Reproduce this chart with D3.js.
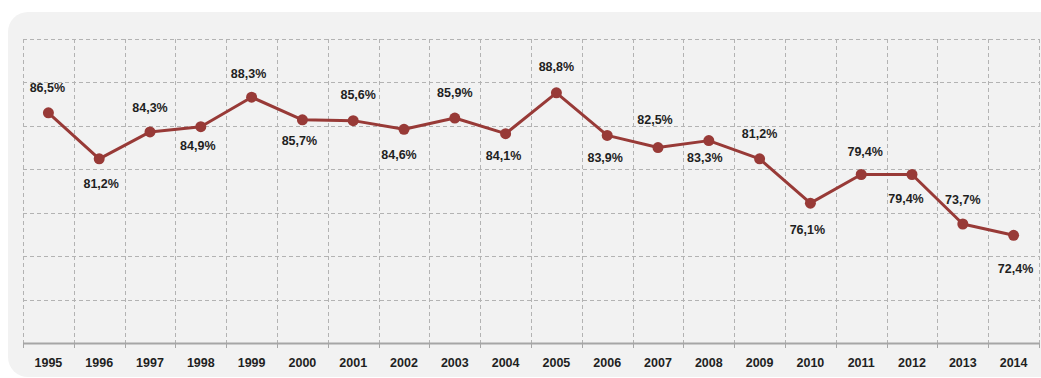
<!DOCTYPE html>
<html>
<head>
<meta charset="utf-8">
<script src="https://cdn.jsdelivr.net/npm/d3@7"></script>
<style>
  html, body { margin: 0; padding: 0; background: #ffffff; }
  svg { display: block; }
  text { font-family: "Liberation Sans", Arial, sans-serif; font-weight: bold; }
</style>
</head>
<body>
<svg id="chart" width="1041" height="378"></svg>
<script>
// Yearly share (%)
const years = ["1995","1996","1997","1998","1999","2000","2001","2002","2003","2004",
               "2005","2006","2007","2008","2009","2010","2011","2012","2013","2014"];
const shares = [86.5, 81.2, 84.3, 84.9, 88.3, 85.7, 85.6, 84.6, 85.9, 84.1,
                88.8, 83.9, 82.5, 83.3, 81.2, 76.1, 79.4, 79.4, 73.7, 72.4];
const yTicks = [60, 65, 70, 75, 80, 85, 90, 95];

// Label placement relative to each marker: [dx, dy]
const labelShift = [[-1,-25],[2,25],[0,-24],[-3,19],[-3,-24],[-3,21],[5,-26],[-5,25],[0,-25],[-2,22],
                    [0,-26],[-2,22],[-3,-28],[-4,17],[0,-25],[-3,26],[4,-23],[-6,24],[0,-24],[2,33]];

const svg = d3.select("#chart");
const plot = { left: 23, right: 1039, top: 39, bottom: 343 };

// rounded panel background
svg.append("rect")
  .attr("x", 8).attr("y", 12)
  .attr("width", 1060).attr("height", 365)
  .attr("rx", 20).attr("ry", 20)
  .attr("fill", "#f2f2f2");

const x = d3.scaleBand().domain(years).range([plot.left, plot.right]).paddingInner(0).paddingOuter(0);
const y = d3.scaleLinear().domain([60, 95]).range([plot.bottom, plot.top]);

const grid = svg.append("g").attr("stroke", "#b3b3b3").attr("stroke-width", 1)
  .attr("stroke-dasharray", "4,3").attr("fill", "none");

// horizontal gridlines
grid.selectAll("line.h").data(yTicks.filter(v => v > 60)).join("line")
  .attr("class", "h")
  .attr("x1", plot.left).attr("x2", plot.right)
  .attr("y1", d => Math.round(y(d)) + 0.5).attr("y2", d => Math.round(y(d)) + 0.5);

// vertical gridlines at band boundaries
const bounds = years.map(d => x(d)).concat([x(years[years.length - 1]) + x.bandwidth()]);
grid.selectAll("line.v").data(bounds).join("line")
  .attr("class", "v")
  .attr("x1", d => Math.round(d) + 0.5).attr("x2", d => Math.round(d) + 0.5)
  .attr("y1", plot.top).attr("y2", plot.bottom);

// category axis
const axis = svg.append("g");
axis.append("line")
  .attr("x1", plot.left).attr("x2", plot.right)
  .attr("y1", plot.bottom + 0.5).attr("y2", plot.bottom + 0.5)
  .attr("stroke", "#a6a6a6").attr("stroke-width", 2);
axis.selectAll("line.tick").data(bounds).join("line")
  .attr("class", "tick")
  .attr("x1", d => Math.round(d) + 0.5).attr("x2", d => Math.round(d) + 0.5)
  .attr("y1", plot.bottom).attr("y2", plot.bottom + 5)
  .attr("stroke", "#a6a6a6").attr("stroke-width", 1);
axis.selectAll("text").data(years).join("text")
  .attr("x", d => x(d) + x.bandwidth() / 2)
  .attr("y", 367)
  .attr("text-anchor", "middle")
  .attr("font-size", "12.5px")
  .attr("fill", "#1f1f1f")
  .text(d => d);

const cx = i => x(years[i]) + x.bandwidth() / 2;

// series line
const line = d3.line().x((d, i) => cx(i)).y(d => y(d));
svg.append("path")
  .datum(shares)
  .attr("d", line)
  .attr("fill", "none")
  .attr("stroke", "#983a37")
  .attr("stroke-width", 3)
  .attr("stroke-linejoin", "round");

// markers
svg.append("g").selectAll("circle").data(shares).join("circle")
  .attr("cx", (d, i) => cx(i))
  .attr("cy", d => y(d))
  .attr("r", 5.5)
  .attr("fill", "#983a37");

// value labels
const fmt = v => v.toFixed(1).replace(".", ",") + "%";
svg.append("g").selectAll("text").data(shares).join("text")
  .attr("x", (d, i) => cx(i) + labelShift[i][0])
  .attr("y", (d, i) => y(d) + labelShift[i][1])
  .attr("dy", "0.35em")
  .attr("text-anchor", "middle")
  .attr("font-size", "12.5px")
  .attr("fill", "#1f1f1f")
  .text(d => fmt(d));
</script>
</body>
</html>
